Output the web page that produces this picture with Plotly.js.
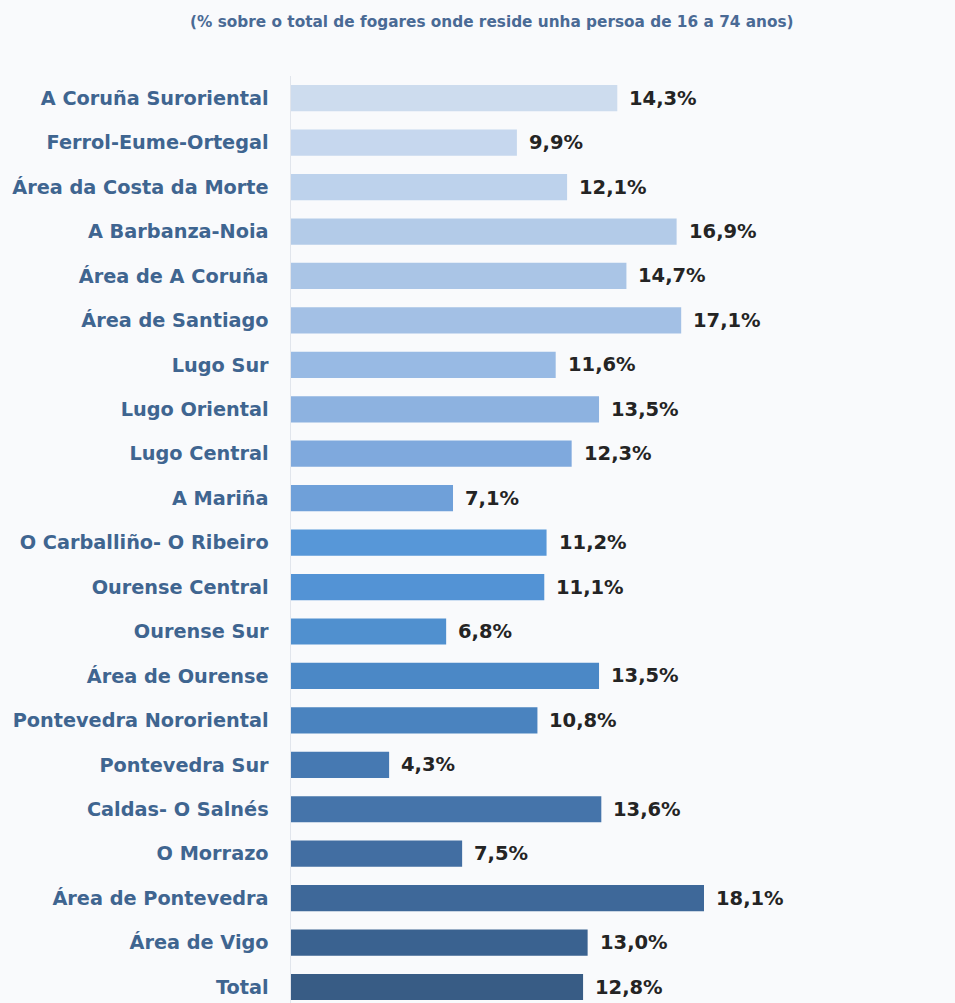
<!DOCTYPE html>
<html>
<head>
<meta charset="utf-8">
<script src="https://cdn.plot.ly/plotly-3.0.1.min.js"></script>
<style>html,body{margin:0;padding:0;background:#f9fafc;}</style>
</head>
<body>
<div id="chart" style="width:955px;height:1003px;"></div>
<script>
const categories = [
  "A Coruña Suroriental", "Ferrol-Eume-Ortegal", "Área da Costa da Morte",
  "A Barbanza-Noia", "Área de A Coruña", "Área de Santiago", "Lugo Sur",
  "Lugo Oriental", "Lugo Central", "A Mariña", "O Carballiño- O Ribeiro",
  "Ourense Central", "Ourense Sur", "Área de Ourense", "Pontevedra Nororiental",
  "Pontevedra Sur", "Caldas- O Salnés", "O Morrazo", "Área de Pontevedra",
  "Área de Vigo", "Total"
];
const values = [14.3, 9.9, 12.1, 16.9, 14.7, 17.1, 11.6, 13.5, 12.3, 7.1, 11.2,
  11.1, 6.8, 13.5, 10.8, 4.3, 13.6, 7.5, 18.1, 13.0, 12.8];
const valueLabels = values.map(v => v.toFixed(1).replace('.', ',') + '%');
const barColors = [
  "#cddcee", "#c6d7ee", "#bdd2ec", "#b3cbe8", "#aac5e6", "#a3c0e5", "#98bae4",
  "#8db2e0", "#7fa9dd", "#6fa0d9", "#5797d8", "#5393d5", "#5090cf", "#4b88c6",
  "#4a83bf", "#4679b2", "#4574aa", "#426ea2", "#3e6899", "#3a6290", "#385c85"
];
const subtitle = "(% sobre o total de fogares onde reside unha persoa de 16 a 74 anos)";

const trace = {
  type: 'bar',
  orientation: 'h',
  y: categories,
  x: values,
  marker: {color: barColors},
  hoverinfo: 'none'
};

const annotations = categories.map((c, i) => ({
  x: values[i], y: c, xref: 'x', yref: 'y',
  text: valueLabels[i], showarrow: false,
  xanchor: 'left', yanchor: 'middle', xshift: 10,
  font: {family: 'DejaVu Sans', size: 19.5, color: '#242424', weight: 700}
}));

const layout = {
  width: 955, height: 1003,
  paper_bgcolor: '#f9fafc', plot_bgcolor: '#f9fafc',
  margin: {l: 291, r: 0, t: 76, b: 0},
  bargap: 0.41,
  showlegend: false,
  title: {
    text: subtitle, x: 0.515, xanchor: 'center', y: 0.978, yanchor: 'middle',
    font: {family: 'DejaVu Sans', size: 15.3, color: '#4a6a95', weight: 700}
  },
  xaxis: {range: [0, 29.1], visible: false, fixedrange: true},
  yaxis: {
    type: 'category',
    range: [20.36, -0.5],
    showline: true, linecolor: '#e1e5ec', linewidth: 1.5,
    showgrid: false, zeroline: false,
    ticks: 'outside', ticklen: 17, tickcolor: 'rgba(0,0,0,0)',
    tickfont: {family: 'DejaVu Sans', size: 19.3, color: '#3f6590', weight: 700}
  },
  annotations: annotations
};

Plotly.newPlot('chart', [trace], layout, {displayModeBar: false, staticPlot: true});
</script>
</body>
</html>
